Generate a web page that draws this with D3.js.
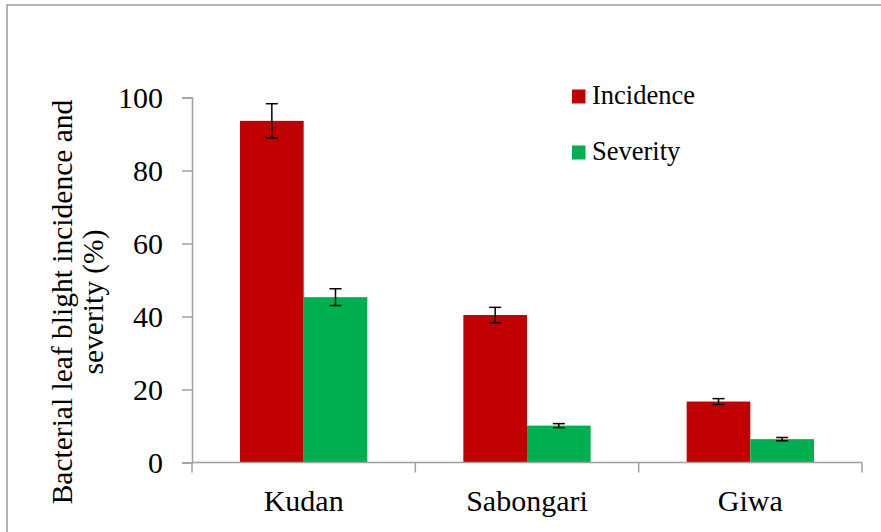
<!DOCTYPE html>
<html>
<head>
<meta charset="utf-8">
<script src="https://cdn.jsdelivr.net/npm/d3@7"></script>
<style>
  html, body { margin: 0; padding: 0; background: #fff; }
  svg { display: block; }
  svg text { font-family: "Liberation Serif", "DejaVu Serif", serif !important; fill: #000; }
</style>
</head>
<body>
<svg id="chart" width="881" height="532"></svg>
<script>
// Sites, series and mean values with their error margins
const sites = ["Kudan", "Sabongari", "Giwa"];
const seriesNames = ["Incidence", "Severity"];
const incidence = [93.6, 40.4, 16.7];
const incidenceErr = [4.7, 2.1, 0.8];
const severity = [45.3, 10.1, 6.4];
const severityErr = [2.3, 0.55, 0.45];
const yTicks = [0, 20, 40, 60, 80, 100];
const yTitleLines = ["Bacterial leaf blight incidence and", "severity (%)"];

const colors = { Incidence: "#C00000", Severity: "#00B050" };
const axisGray = "#A0A0A0";
const serif = "'Liberation Serif', 'DejaVu Serif', serif";

const rows = sites.map((s, i) => ({
  site: s,
  values: [
    { key: "Incidence", value: incidence[i], err: incidenceErr[i] },
    { key: "Severity", value: severity[i], err: severityErr[i] }
  ]
}));

const svg = d3.select("#chart");

// outer frame
svg.append("rect")
  .attr("x", 7).attr("y", 5)
  .attr("width", 900).attr("height", 560)
  .attr("fill", "none")
  .attr("stroke", "#999").attr("stroke-width", 1.5);

const plotLeft = 192, plotRight = 862, plotTop = 97.5, plotBottom = 462.5;

const y = d3.scaleLinear().domain([0, 100]).range([plotBottom, plotTop]);
const x0 = d3.scaleBand().domain(sites).range([plotLeft, plotRight])
  .paddingInner(0.43).paddingOuter(0.215);
const x1 = d3.scaleBand().domain(seriesNames).range([0, x0.bandwidth()]);

// bars
const groups = svg.append("g").selectAll("g")
  .data(rows).join("g")
  .attr("transform", d => `translate(${x0(d.site)},0)`);

groups.selectAll("rect")
  .data(d => d.values).join("rect")
  .attr("x", d => x1(d.key))
  .attr("y", d => y(d.value))
  .attr("width", x1.bandwidth())
  .attr("height", d => y(0) - y(d.value))
  .attr("fill", d => colors[d.key]);

// error bars
const capHalf = 6;
const eb = groups.selectAll("g.err")
  .data(d => d.values).join("g")
  .attr("class", "err")
  .attr("stroke", "#000").attr("stroke-width", 1.5);
eb.append("line")
  .attr("x1", d => x1(d.key) + x1.bandwidth() / 2)
  .attr("x2", d => x1(d.key) + x1.bandwidth() / 2)
  .attr("y1", d => y(d.value + d.err))
  .attr("y2", d => y(d.value - d.err));
eb.append("line")
  .attr("x1", d => x1(d.key) + x1.bandwidth() / 2 - capHalf)
  .attr("x2", d => x1(d.key) + x1.bandwidth() / 2 + capHalf)
  .attr("y1", d => y(d.value + d.err))
  .attr("y2", d => y(d.value + d.err));
eb.append("line")
  .attr("x1", d => x1(d.key) + x1.bandwidth() / 2 - capHalf)
  .attr("x2", d => x1(d.key) + x1.bandwidth() / 2 + capHalf)
  .attr("y1", d => y(d.value - d.err))
  .attr("y2", d => y(d.value - d.err));

// y axis
const yAxis = svg.append("g")
  .attr("transform", `translate(${plotLeft},0)`)
  .call(d3.axisLeft(y).tickValues(yTicks).tickSize(10).tickPadding(19).tickFormat(d3.format("d")))
  .attr("font-family", serif);
yAxis.select(".domain").attr("stroke", axisGray).attr("stroke-width", 1.5);
yAxis.selectAll(".tick line").attr("stroke", axisGray).attr("stroke-width", 1.5);
yAxis.selectAll(".tick text")
  .style("font-family", serif)
  .attr("font-size", 30).attr("fill", "#000");

// x axis: baseline with ticks at category boundaries
const xAxisG = svg.append("g");
xAxisG.append("line")
  .attr("x1", plotLeft).attr("x2", plotRight)
  .attr("y1", y(0)).attr("y2", y(0))
  .attr("stroke", axisGray).attr("stroke-width", 1.5);
const boundaries = d3.range(sites.length + 1).map(i => plotLeft + i * x0.step());
xAxisG.selectAll("line.bt")
  .data(boundaries).join("line")
  .attr("class", "bt")
  .attr("x1", d => d).attr("x2", d => d)
  .attr("y1", y(0)).attr("y2", y(0) + 10)
  .attr("stroke", axisGray).attr("stroke-width", 1.5);
xAxisG.selectAll("text")
  .data(sites).join("text")
  .attr("x", d => x0(d) + x0.bandwidth() / 2)
  .attr("y", 511)
  .attr("text-anchor", "middle")
  .style("font-family", serif)
  .attr("font-size", 30)
  .text(d => d);

// y axis title
const yTitle = svg.append("text")
  .attr("transform", "translate(0,302) rotate(-90)")
  .attr("text-anchor", "middle")
  .style("font-family", serif)
  .attr("font-size", 29.5);
yTitle.selectAll("tspan")
  .data(yTitleLines).join("tspan")
  .attr("x", 0)
  .attr("y", (d, i) => 72 + i * 31)
  .text(d => d);

// legend
const legend = svg.append("g").selectAll("g")
  .data(seriesNames).join("g")
  .attr("transform", (d, i) => `translate(572,${89.5 + i * 56})`);
legend.append("rect")
  .attr("width", 13.5).attr("height", 14)
  .attr("fill", d => colors[d]);
legend.append("text")
  .attr("x", 20).attr("y", 14)
  .style("font-family", serif)
  .attr("font-size", 26.5)
  .text(d => d);
</script>
</body>
</html>
